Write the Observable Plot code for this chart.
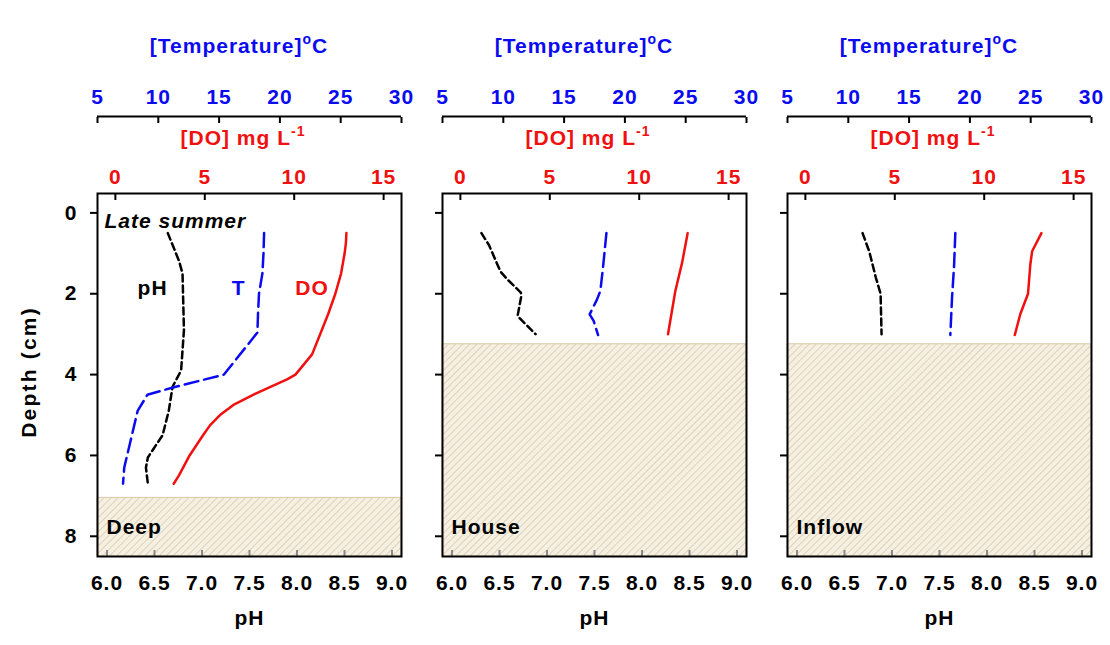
<!DOCTYPE html>
<html><head><meta charset="utf-8">
<script src="https://cdn.jsdelivr.net/npm/d3@7"></script>
<script src="https://cdn.jsdelivr.net/npm/@observablehq/plot@0.6"></script>
<style>
body{margin:0;background:#fff;}
#wrap{position:relative;width:1110px;height:645px;overflow:hidden;font-family:"Liberation Sans",Arial,sans-serif;}
.title{position:absolute;font-weight:bold;font-size:21px;letter-spacing:1px;white-space:nowrap;transform:translate(-50%,-50%);line-height:1;}
.title sup{font-size:14px;vertical-align:9px;line-height:0;}
.ylab{position:absolute;font-weight:bold;font-size:21px;letter-spacing:2.2px;white-space:nowrap;transform:translate(-50%,-50%) rotate(-90deg);line-height:1;color:#000;}
</style></head><body>
<svg width="0" height="0" style="position:absolute"><defs>
<pattern id="hatch" width="5" height="5" patternUnits="userSpaceOnUse" patternTransform="rotate(45)">
<rect width="5" height="5" fill="#f6f0e3"/><line x1="0" y1="0" x2="0" y2="5" stroke="#cfbf9d" stroke-width="1.2"/>
</pattern></defs></svg>
<div id="wrap"></div>
<script>
// ---------- data ----------
const siteNames = ["Deep", "House", "Inflow"];
const sedimentTop = [7.05, 3.25, 3.25];

const phTicks = [6.0, 6.5, 7.0, 7.5, 8.0, 8.5, 9.0];
const tempTicks = [5, 10, 15, 20, 25, 30];
const doTicks = [0, 5, 10, 15];
const depthTicks = [0, 2, 4, 6, 8];

const phDomain = [5.9, 9.1];
const tempDomain = [5, 30];
const doDomain = [-1, 16];
const depthDomain = [-0.48, 8.5];

// Deep
const deepPhDepth = [0.5, 1.2, 1.5, 2.9, 3.9, 4.3, 4.9, 5.5, 6.05, 6.3, 6.7];
const deepPh      = [6.64, 6.76, 6.795, 6.81, 6.78, 6.69, 6.65, 6.585, 6.43, 6.41, 6.43];
const deepTDepth  = [0.5, 1.0, 1.5, 2.0, 2.5, 2.96, 4.0, 4.32, 4.5, 4.9, 5.6, 6.3, 6.7];
const deepT       = [18.7, 18.65, 18.56, 18.28, 18.2, 18.15, 15.4, 11.2, 9.1, 8.3, 7.75, 7.2, 7.1];
const deepDoDepth = [0.5, 0.75, 1.0, 1.5, 2.0, 2.5, 3.0, 3.5, 4.0, 4.12, 4.25, 4.5, 4.75, 5.0, 5.25, 5.5, 6.0, 6.5, 6.7];
const deepDo      = [12.92, 12.89, 12.82, 12.62, 12.3, 11.9, 11.45, 11.0, 10.07, 9.6, 8.95, 7.7, 6.6, 5.85, 5.3, 4.9, 4.15, 3.55, 3.26];

// House
const housePhDepth = [0.5, 0.8, 1.45, 1.65, 1.97, 2.05, 2.55, 2.67, 3.0];
const housePh      = [6.31, 6.39, 6.51, 6.585, 6.725, 6.73, 6.69, 6.74, 6.88];
const houseTDepth  = [0.5, 1.35, 1.93, 2.14, 2.51, 2.67, 3.02];
const houseT       = [18.48, 18.2, 17.98, 17.71, 17.1, 17.43, 17.79];
const houseDoDepth = [0.5, 1.23, 1.93, 3.0];
const houseDo      = [12.71, 12.4, 12.02, 11.61];

// Inflow
const inflowPhDepth = [0.5, 0.95, 1.6, 2.0, 3.0];
const inflowPh      = [6.69, 6.76, 6.83, 6.88, 6.89];
const inflowTDepth  = [0.5, 1.3, 2.1, 3.02];
const inflowT       = [18.8, 18.7, 18.53, 18.39];
const inflowDoDepth = [0.5, 0.95, 1.27, 2.0, 2.5, 3.02];
const inflowDo      = [13.2, 12.68, 12.58, 12.45, 12.02, 11.71];

// ---------- build ----------
const zip = (ds, vs) => ds.map((d, i) => ({depth: d, v: vs[i]}));
const series = [
  {ph: zip(deepPhDepth, deepPh), t: zip(deepTDepth, deepT), o: zip(deepDoDepth, deepDo)},
  {ph: zip(housePhDepth, housePh), t: zip(houseTDepth, houseT), o: zip(houseDoDepth, houseDo)},
  {ph: zip(inflowPhDepth, inflowPh), t: zip(inflowTDepth, inflowT), o: zip(inflowDoDepth, inflowDo)}
];

const W = 1110, H = 645;
const panelLeft = [97, 442, 787], panelW = 304;
const MT = 193, MB = 89;
const BLUE = "#0b0bf0", RED = "#f01010";
const wrap = document.getElementById("wrap");

function place(el) { el.style.position = "absolute"; el.style.left = "0px"; el.style.top = "0px"; wrap.appendChild(el); }

panelLeft.forEach((L, i) => {
  const common = {
    width: W, height: H, marginLeft: L, marginRight: W - L - panelW, marginTop: MT, marginBottom: MB,
    style: {fontFamily: '"Liberation Sans", Arial, sans-serif', fontSize: "21px", fontWeight: "bold", letterSpacing: "1px", background: "none", overflow: "visible"}
  };
  const s = series[i];
  const ph = Plot.plot({
    ...common,
    x: {domain: phDomain, label: null},
    y: {domain: depthDomain, reverse: true, label: null},
    marks: [
      Plot.rect([sedimentTop[i]], {x1: phDomain[0], x2: phDomain[1], y1: d => d, y2: depthDomain[1], fill: "url(#hatch)", stroke: "#d8c9a6", strokeWidth: 1}),
      Plot.axisX(phTicks, {anchor: "bottom", tickSize: 6, dy: -6, tickFormat: () => "", stroke: "#8a8a8a", strokeWidth: 2, label: null}),
      Plot.axisX(phTicks, {anchor: "bottom", tickSize: 0, tickPadding: 19, tickFormat: d3.format(".1f"), fill: "black", label: null}),
      Plot.axisY(depthTicks, {anchor: "left", tickSize: 7, tickPadding: 13, strokeWidth: 2, tickFormat: i === 0 ? d => d : () => "", fill: "black", label: null}),
      Plot.line(s.ph, {x: "v", y: "depth", stroke: "black", strokeWidth: 2.5, strokeDasharray: "7,4"}),
      Plot.frame({stroke: "black", strokeWidth: 2}),
      Plot.text([siteNames[i]], {frameAnchor: "bottom-left", dx: 9, dy: -23, textAnchor: "start", fontSize: 21, fill: "black"}),
      Plot.text(["pH"], {frameAnchor: "bottom", dy: 68, fontSize: 21, fill: "black"}),
      ...(i === 0 ? [
        Plot.text(["Late summer"], {frameAnchor: "top-left", dx: 7, dy: 20, textAnchor: "start", fontSize: 21, fontStyle: "italic", fill: "black"}),
        Plot.text(["pH"], {x: 6.48, y: 1.86, fontSize: 21, fill: "black"})
      ] : [])
    ]
  });
  place(ph);

  const tp = Plot.plot({
    ...common,
    x: {domain: tempDomain, label: null},
    y: {domain: depthDomain, reverse: true, axis: null},
    marks: [
      Plot.ruleY([depthDomain[0]], {dy: -77, stroke: "black", strokeWidth: 2}),
      Plot.axisX(tempTicks, {anchor: "top", tickSize: 6, dy: -71, tickFormat: () => "", stroke: "black", strokeWidth: 2, label: null}),
      Plot.axisX(tempTicks, {anchor: "top", tickSize: 0, tickPadding: 13, dy: -77, fill: BLUE, label: null}),
      Plot.line(s.t, {x: "v", y: "depth", stroke: BLUE, strokeWidth: 2.5, strokeDasharray: "14,6"}),
      ...(i === 0 ? [Plot.text(["T"], {x: 16.6, y: 1.86, fontSize: 21, fill: BLUE})] : [])
    ]
  });
  place(tp);

  const dp = Plot.plot({
    ...common,
    x: {domain: doDomain, label: null},
    y: {domain: depthDomain, reverse: true, axis: null},
    marks: [
      Plot.axisX(doTicks, {anchor: "top", tickSize: 6, dy: 6, tickFormat: () => "", stroke: "black", strokeWidth: 2, label: null}),
      Plot.axisX(doTicks, {anchor: "top", tickSize: 0, tickPadding: 10, fill: RED, label: null}),
      Plot.line(s.o, {x: "v", y: "depth", stroke: RED, strokeWidth: 2.5}),
      ...(i === 0 ? [Plot.text(["DO"], {x: 11.0, y: 1.86, fontSize: 21, fill: RED})] : [])
    ]
  });
  place(dp);

  const cx = L + panelW / 2;
  const t1 = document.createElement("div");
  t1.className = "title"; t1.style.color = BLUE;
  t1.style.left = (cx - 10) + "px"; t1.style.top = "45px";
  t1.innerHTML = "[Temperature]<sup>o</sup>C";
  wrap.appendChild(t1);
  const t2 = document.createElement("div");
  t2.className = "title"; t2.style.color = RED;
  t2.style.left = (cx - 6) + "px"; t2.style.top = "137px";
  t2.innerHTML = "[DO] mg L<sup>-1</sup>";
  wrap.appendChild(t2);
});

const yl = document.createElement("div");
yl.className = "ylab"; yl.style.left = "28px"; yl.style.top = "372px";
yl.textContent = "Depth (cm)";
wrap.appendChild(yl);
</script>
</body></html>
